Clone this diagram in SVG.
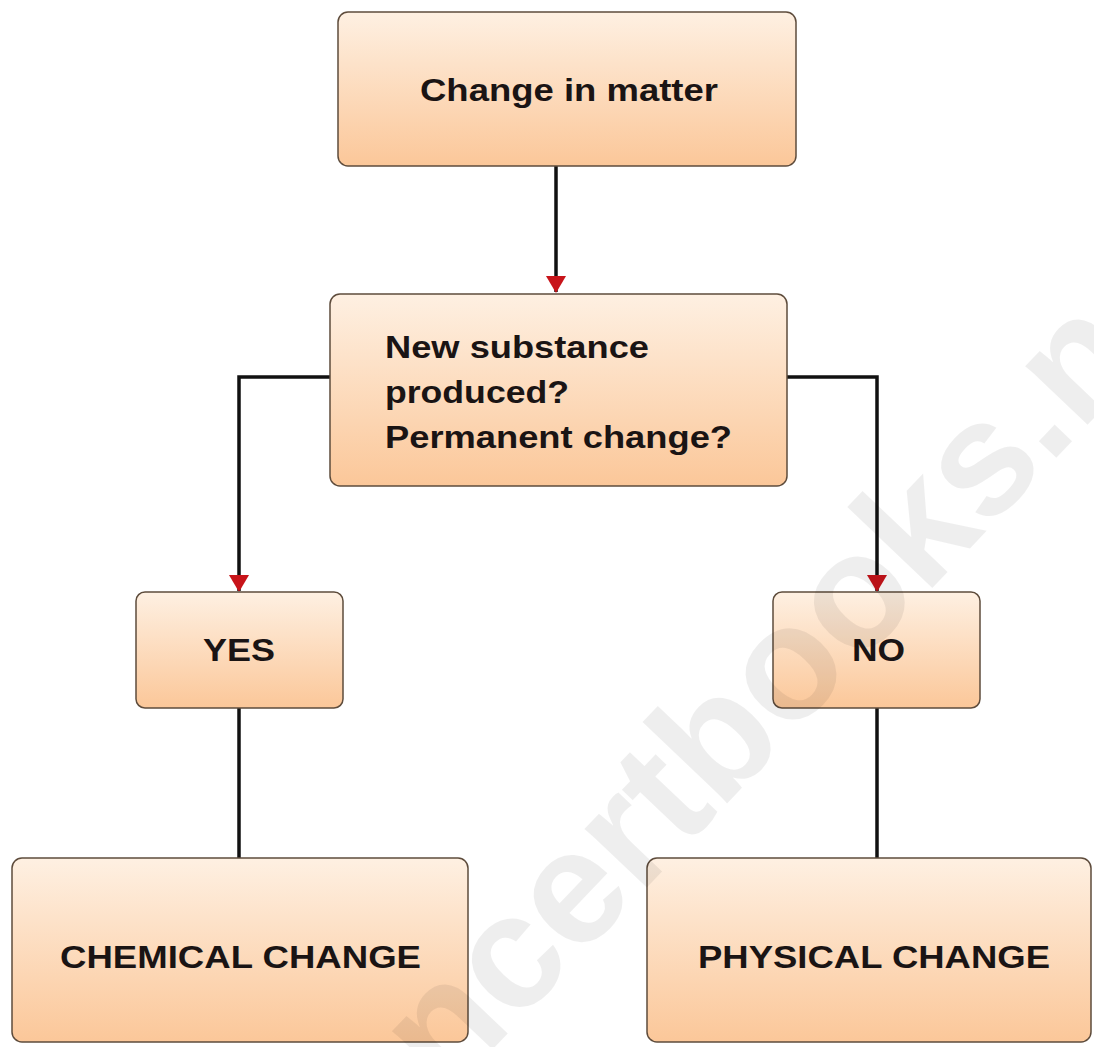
<svg xmlns="http://www.w3.org/2000/svg" width="1094" height="1047" viewBox="0 0 1094 1047">
  <defs>
    <linearGradient id="peach" x1="0" y1="0" x2="0" y2="1">
      <stop offset="0" stop-color="#fef0e2"/>
      <stop offset="1" stop-color="#fbc799"/>
    </linearGradient>
    <marker id="arrd" viewBox="0 0 20 17" refX="10" refY="16" markerWidth="20" markerHeight="17" markerUnits="userSpaceOnUse">
      <path d="M0,0 L20,0 L10,17 Z" fill="#c8141a"/>
    </marker>
  </defs>
  <style>
    .box { fill: url(#peach); stroke: #5e4c3c; stroke-width: 1.5; }
    .lbl { font-family: "Liberation Sans", Arial, sans-serif; font-weight: bold; font-size: 32px; fill: #1a1414; }
    .conn { fill: none; stroke: #111; stroke-width: 3.5; }
    .wm { font-family: "Liberation Sans", Arial, sans-serif; font-weight: bold; font-size: 162px; fill: #000; fill-opacity: 0.065; }
  </style>
  <rect width="1094" height="1047" fill="#ffffff"/>

  <g id="connectors">
    <path class="conn" d="M556,166 V292" marker-end="url(#arrd)"/>
    <path class="conn" d="M330,377 H239 V591" marker-end="url(#arrd)"/>
    <path class="conn" d="M787,377 H877 V591" marker-end="url(#arrd)"/>
    <path class="conn" d="M239,708 V858"/>
    <path class="conn" d="M877,708 V858"/>
  </g>

  <g id="node-change-in-matter">
    <rect class="box" x="338" y="12" width="458" height="154" rx="10"/>
    <text class="lbl" x="420" y="101" textLength="298" lengthAdjust="spacingAndGlyphs">Change in matter</text>
  </g>

  <g id="node-question">
    <rect class="box" x="330" y="294" width="457" height="192" rx="10"/>
    <text class="lbl" x="385" y="358" textLength="264" lengthAdjust="spacingAndGlyphs">New substance</text>
    <text class="lbl" x="385" y="403" textLength="184" lengthAdjust="spacingAndGlyphs">produced?</text>
    <text class="lbl" x="385" y="448" textLength="347" lengthAdjust="spacingAndGlyphs">Permanent change?</text>
  </g>

  <g id="node-yes">
    <rect class="box" x="136" y="592" width="207" height="116" rx="9"/>
    <text class="lbl" x="203" y="661" textLength="72" lengthAdjust="spacingAndGlyphs">YES</text>
  </g>

  <g id="node-no">
    <rect class="box" x="773" y="592" width="207" height="116" rx="9"/>
    <text class="lbl" x="852" y="661" textLength="53" lengthAdjust="spacingAndGlyphs">NO</text>
  </g>

  <g id="node-chemical">
    <rect class="box" x="12" y="858" width="456" height="184" rx="10"/>
    <text class="lbl" x="60" y="968" textLength="361" lengthAdjust="spacingAndGlyphs">CHEMICAL CHANGE</text>
  </g>

  <g id="node-physical">
    <rect class="box" x="647" y="858" width="444" height="184" rx="10"/>
    <text class="lbl" x="698" y="968" textLength="352" lengthAdjust="spacingAndGlyphs">PHYSICAL CHANGE</text>
  </g>

  <text class="wm" x="0" y="0" transform="translate(159,1400) rotate(-46.4)">www.ncertbooks.net</text>
</svg>
